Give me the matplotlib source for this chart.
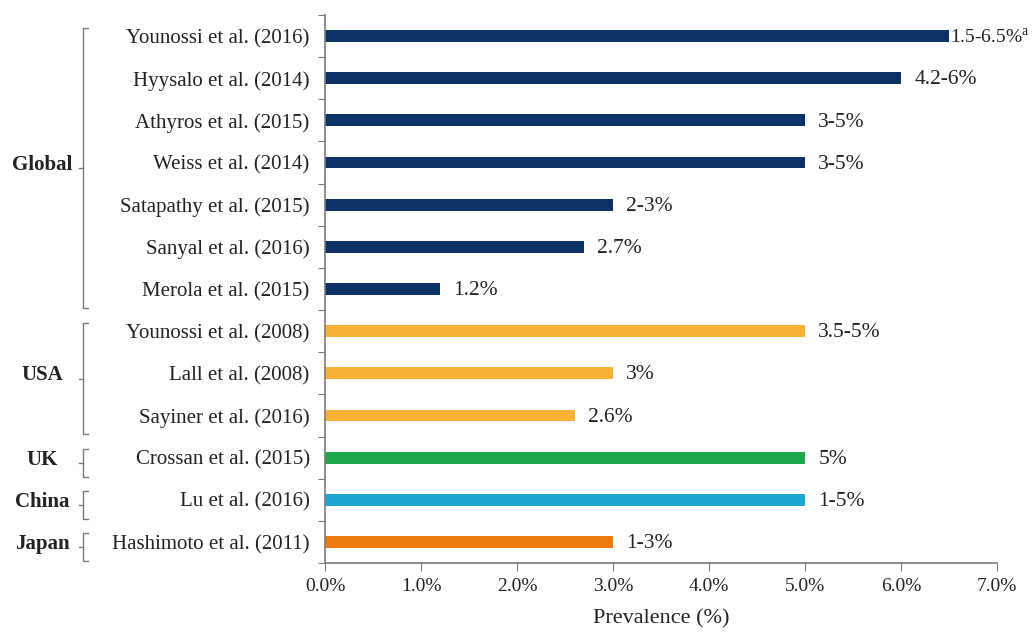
import matplotlib
matplotlib.use('Agg')
import matplotlib.pyplot as plt
import matplotlib.transforms as mtransforms
import numpy as np

# data
studies = ['Younossi et al. (2016)', 'Hyysalo et al. (2014)', 'Athyros et al. (2015)',
           'Weiss et al. (2014)', 'Satapathy et al. (2015)', 'Sanyal et al. (2016)',
           'Merola et al. (2015)', 'Younossi et al. (2008)', 'Lall et al. (2008)',
           'Sayiner et al. (2016)', 'Crossan et al. (2015)', 'Lu et al. (2016)',
           'Hashimoto et al. (2011)']
values = [6.5, 6.0, 5.0, 5.0, 3.0, 2.7, 1.2, 5.0, 3.0, 2.6, 5.0, 5.0, 3.0]
ranges = ['1.5-6.5%$^{\\mathrm{a}}$', '4.2-6%', '3-5%', '3-5%', '2-3%', '2.7%', '1.2%',
          '3.5-5%', '3%', '2.6%', '5%', '1-5%', '1-3%']
regions = ['Global', 'USA', 'UK', 'China', 'Japan']
region_sizes = [7, 3, 1, 1, 1]
region_colors = ['#0D3366', '#F9B233', '#1EA84B', '#1DA5D4', '#EC7A0E']
xticks = [0, 1, 2, 3, 4, 5, 6, 7]

plt.rcParams['font.family'] = ['Liberation Serif', 'DejaVu Serif']
plt.rcParams['mathtext.fontset'] = 'custom'
plt.rcParams['mathtext.rm'] = 'Liberation Serif'
txt = '#222222'
grey = '#7a7a7a'

fig = plt.figure(figsize=(10.34, 6.32), dpi=100)
ax = fig.add_axes([0.3143, 0.1092, 0.65, 0.8671])

colors = []
for name, n, c in zip(regions, region_sizes, region_colors):
    colors += [c] * n
y = np.arange(len(studies))
ax.barh(y, values, height=0.28, color=colors)

for i, (v, lab) in enumerate(zip(values, ranges)):
    # the first label sits tight against its bar and is a bit smaller
    off, fs = (1, 14) if i == 0 else (9.5, 15.5)
    ax.annotate(lab, (v, i + 0.04), xytext=(off, 0), textcoords='offset points',
                ha='left', va='center', fontsize=fs, color=txt)

ax.set_xlim(0, 7)
ax.set_ylim(len(studies) - 0.5, -0.5)
ax.set_xticks(xticks)
ax.set_xticklabels(['%.1f%%' % t for t in xticks], fontsize=14, color=txt)
ax.set_xlabel('Prevalence (%)', fontsize=16, color=txt, labelpad=10)

# boundaries as major ticks, names as minor ticks
ax.set_yticks(np.arange(len(studies) + 1) - 0.5)
ax.set_yticklabels([])
ax.set_yticks(y, minor=True)
ax.set_yticklabels(studies, minor=True, fontsize=15, color=txt)
ax.tick_params(axis='y', which='major', length=5, color=grey, direction='out')
ax.tick_params(axis='y', which='minor', length=0, pad=11)
ax.tick_params(axis='x', length=6, color=grey, direction='out', pad=5)

for s in ['top', 'right']:
    ax.spines[s].set_visible(False)
for s in ['left', 'bottom']:
    ax.spines[s].set_color(grey)
    ax.spines[s].set_linewidth(1.2)

# region brackets
trans = mtransforms.blended_transform_factory(ax.transAxes, ax.transData)
bx = -0.360
hook = 0.008
start = 0
for name, n in zip(regions, region_sizes):
    top = start - 0.2
    bot = start + n - 1 + 0.45
    mid = (top + bot) / 2
    ax.plot([bx + hook, bx, bx, bx + hook], [top, top, bot, bot], transform=trans,
            color=grey, lw=1.0, clip_on=False)
    ax.plot([bx, bx - 0.006], [mid, mid], transform=trans, color=grey, lw=1.0, clip_on=False)
    ax.text(-0.421, start + (n - 1) / 2 + 0.05, name, transform=trans, ha='center',
            va='center', fontsize=15, fontweight='bold', color=txt)
    start += n

fig.savefig('out.png', dpi=100)
